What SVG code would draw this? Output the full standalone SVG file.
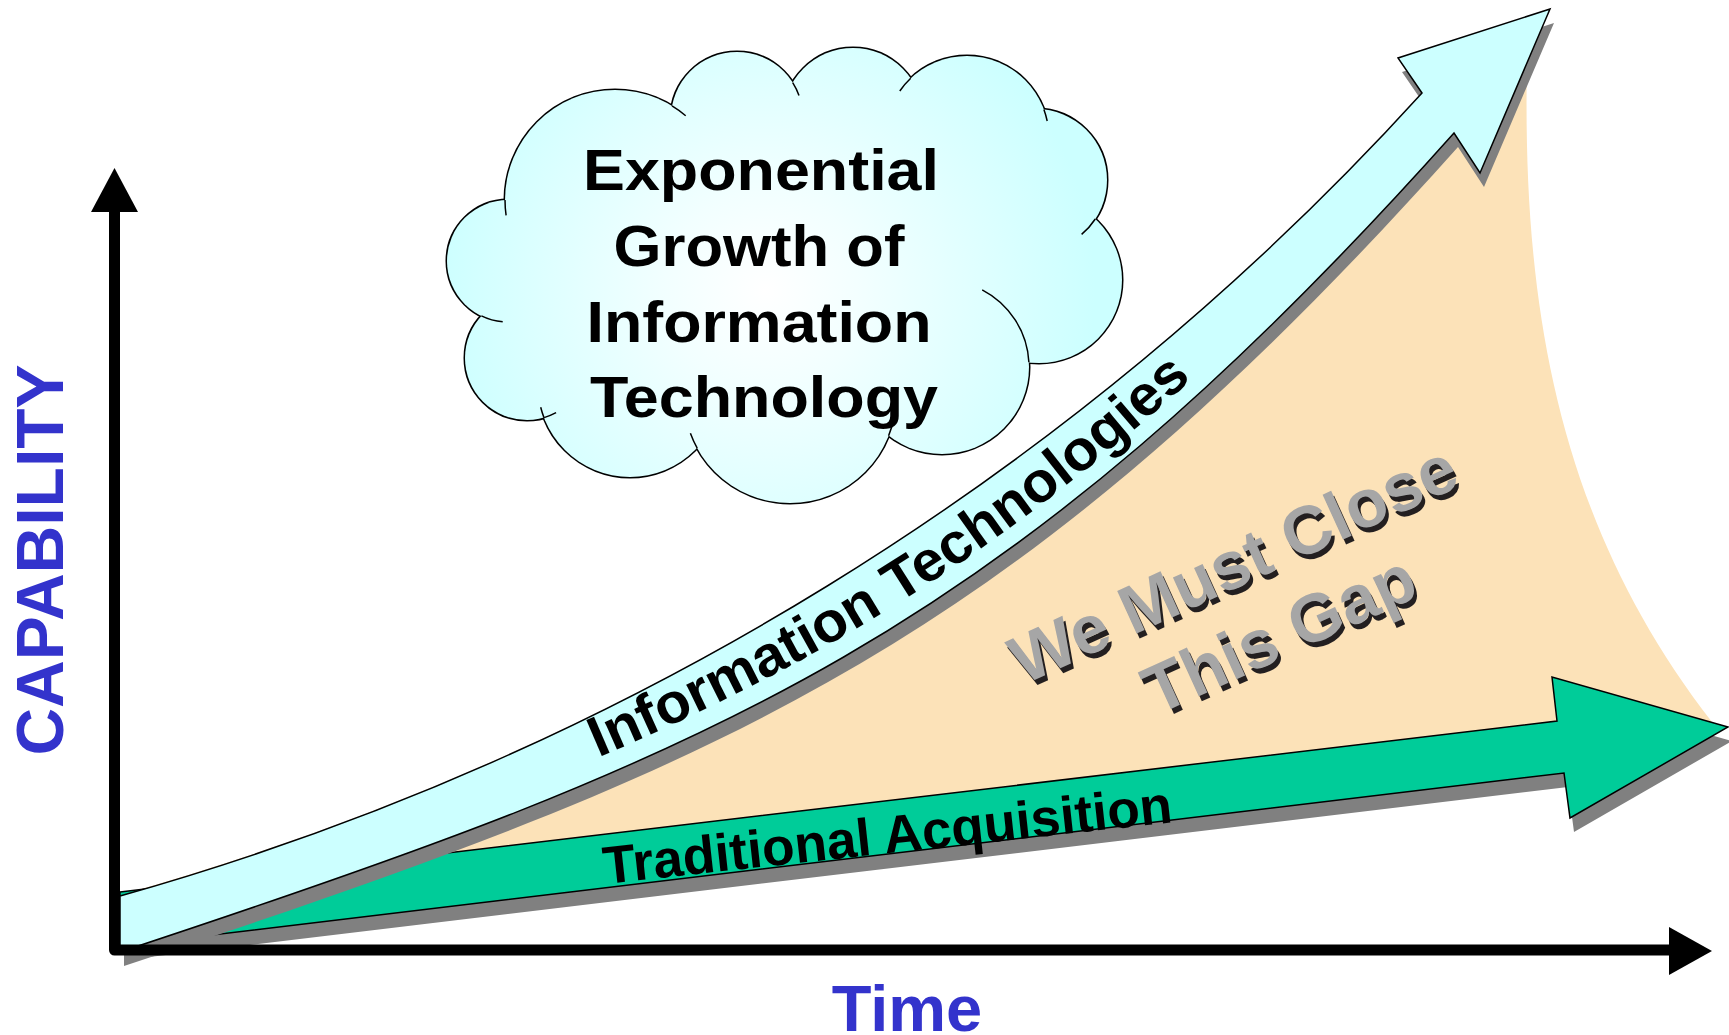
<svg xmlns="http://www.w3.org/2000/svg" width="1729" height="1035" viewBox="0 0 1729 1035">
<defs>
<style>
.shadow{fill:#808080}
.it{fill:#CCFFFF;stroke:#000;stroke-width:1.5;stroke-linejoin:miter}
.ta{fill:#00CC99;stroke:#000;stroke-width:1.5;stroke-linejoin:miter}
.gap{fill:#FCE2B8}
.lbl{font-family:"Liberation Sans",Arial,sans-serif;font-weight:bold}
.cs{fill:none;stroke:#000;stroke-width:3}
.cf{fill:url(#cloudGrad);stroke:none}
.tick{fill:none;stroke:#000;stroke-width:1.5}
.axis{fill:none;stroke:#000;stroke-width:11;stroke-linejoin:round}
.blue{fill:#3333CC}
.gapTxt{fill:#A6A6A6}
.gapShd{fill:#231F20}
</style>
<radialGradient id="cloudGrad" gradientUnits="userSpaceOnUse" cx="765" cy="290" r="330">
<stop offset="0" stop-color="#FFFFFF"/>
<stop offset="0.3" stop-color="#F2FFFF"/>
<stop offset="1" stop-color="#CCFFFF"/>
</radialGradient>
<path id="itShape" d="M120,896 C620,755 1072,478 1422,93 L1398,58 L1550,9 L1480,173 L1454,133 C1004,637 720,754 120,952 Z"/>
<path id="taShape" d="M120,892 L1557,721 L1552,677 L1728,727 L1570,818 L1564,773 L120,946 Z"/>
<path id="itTextPath" d="M120,931 C720,733 1004,616 1454,112"/>
<g id="bumps">
<circle cx="615" cy="200" r="110"/>
<circle cx="737" cy="118" r="66"/>
<circle cx="853" cy="118" r="70"/>
<circle cx="967" cy="138" r="82"/>
<circle cx="1036" cy="180" r="71"/>
<circle cx="1039" cy="280" r="83"/>
<circle cx="942" cy="367" r="87"/>
<circle cx="790" cy="397" r="106"/>
<circle cx="630" cy="385" r="92"/>
<circle cx="527" cy="358" r="62"/>
<circle cx="508" cy="261" r="61"/>
</g>
</defs>
<rect x="0" y="0" width="1729" height="1035" fill="#FFFFFF"/>

<g id="gap">
<path class="gap" d="M120,895 C620,755 1072,478 1422,93 L1527,60 C1522,300 1555,520 1712,722 L1560,721 L120,892 Z"/>
</g>

<g id="traditional-acquisition">
<use href="#taShape" class="shadow" transform="translate(4,14)"/>
<use href="#taShape" class="ta"/>
<text class="lbl" font-size="53" fill="#000" transform="translate(605,884) rotate(-6.2)" textLength="572" lengthAdjust="spacingAndGlyphs">Traditional Acquisition</text>
</g>

<g id="information-technologies">
<use href="#itShape" class="shadow" transform="translate(4,14)"/>
<use href="#itShape" class="it"/>
<text class="lbl" font-size="57" fill="#000"><textPath href="#itTextPath" startOffset="509" textLength="708" lengthAdjust="spacingAndGlyphs">Information Technologies</textPath></text>
</g>

<g id="gap-label">
<g class="gapShd" transform="translate(1246,590) rotate(-24.5)">
<text class="lbl" font-size="68" text-anchor="middle" x="0" y="0">We Must Close</text>
<text class="lbl" font-size="68" text-anchor="middle" x="12.7" y="83">This Gap</text>
</g>
<g class="gapTxt" transform="translate(1243,585) rotate(-24.5)">
<text class="lbl" font-size="68" text-anchor="middle" x="0" y="0">We Must Close</text>
<text class="lbl" font-size="68" text-anchor="middle" x="12.7" y="83">This Gap</text>
</g>
</g>

<g id="cloud">
<use href="#bumps" class="cs"/>
<use href="#bumps" class="cf"/>
<polygon class="cf" points="615,200 737,118 853,118 967,138 1036,180 1039,280 942,367 790,397 630,385 527,358 508,261"/>
<ellipse class="cf" cx="780" cy="280" rx="200" ry="120"/>
<path class="tick" d="M505,200 A110,110 0 0 0 506.1,215.3"/>
<path class="tick" d="M672,105.9 A110,110 0 0 1 685.7,115.7"/>
<path class="tick" d="M792.7,82.6 A66,66 0 0 1 799,95.4"/>
<path class="tick" d="M910.7,78.3 A82,82 0 0 0 899.8,91"/>
<path class="tick" d="M1043.9,109.4 A82,82 0 0 1 1047.2,121"/>
<path class="tick" d="M1095.3,219 A71,71 0 0 1 1081.6,234.4"/>
<path class="tick" d="M982.2,289.8 A87,87 0 0 1 1028.9,362.3"/>
<path class="tick" d="M888.6,435.8 A106,106 0 0 0 893.7,419"/>
<path class="tick" d="M697.2,448.2 A106,106 0 0 1 690.4,433.3"/>
<path class="tick" d="M544,417.7 A92,92 0 0 1 540.7,407.3"/>
<path class="tick" d="M544.1,417.6 A62,62 0 0 0 556.1,412.7"/>
<path class="tick" d="M481.4,315.9 A61,61 0 0 0 502.7,321.8"/>
<g class="lbl" font-size="58" fill="#000" text-anchor="middle">
<text x="761" y="190" textLength="356" lengthAdjust="spacingAndGlyphs">Exponential</text>
<text x="759" y="266" textLength="291" lengthAdjust="spacingAndGlyphs">Growth of</text>
<text x="759" y="342" textLength="345" lengthAdjust="spacingAndGlyphs">Information</text>
<text x="764" y="417" textLength="348" lengthAdjust="spacingAndGlyphs">Technology</text>
</g>
</g>

<g id="axes">
<path class="axis" d="M114.5,211 L114.5,950 L1669,950"/>
<polygon points="91,212 138,212 114.5,168" fill="#000"/>
<polygon points="1669,927 1669,975 1712,951" fill="#000"/>
</g>

<g id="axis-labels">
<text class="lbl blue" font-size="66" text-anchor="middle" transform="translate(63,560) rotate(-90)">CAPABILITY</text>
<text class="lbl blue" font-size="65" text-anchor="middle" x="907" y="1031">Time</text>
</g>
</svg>
